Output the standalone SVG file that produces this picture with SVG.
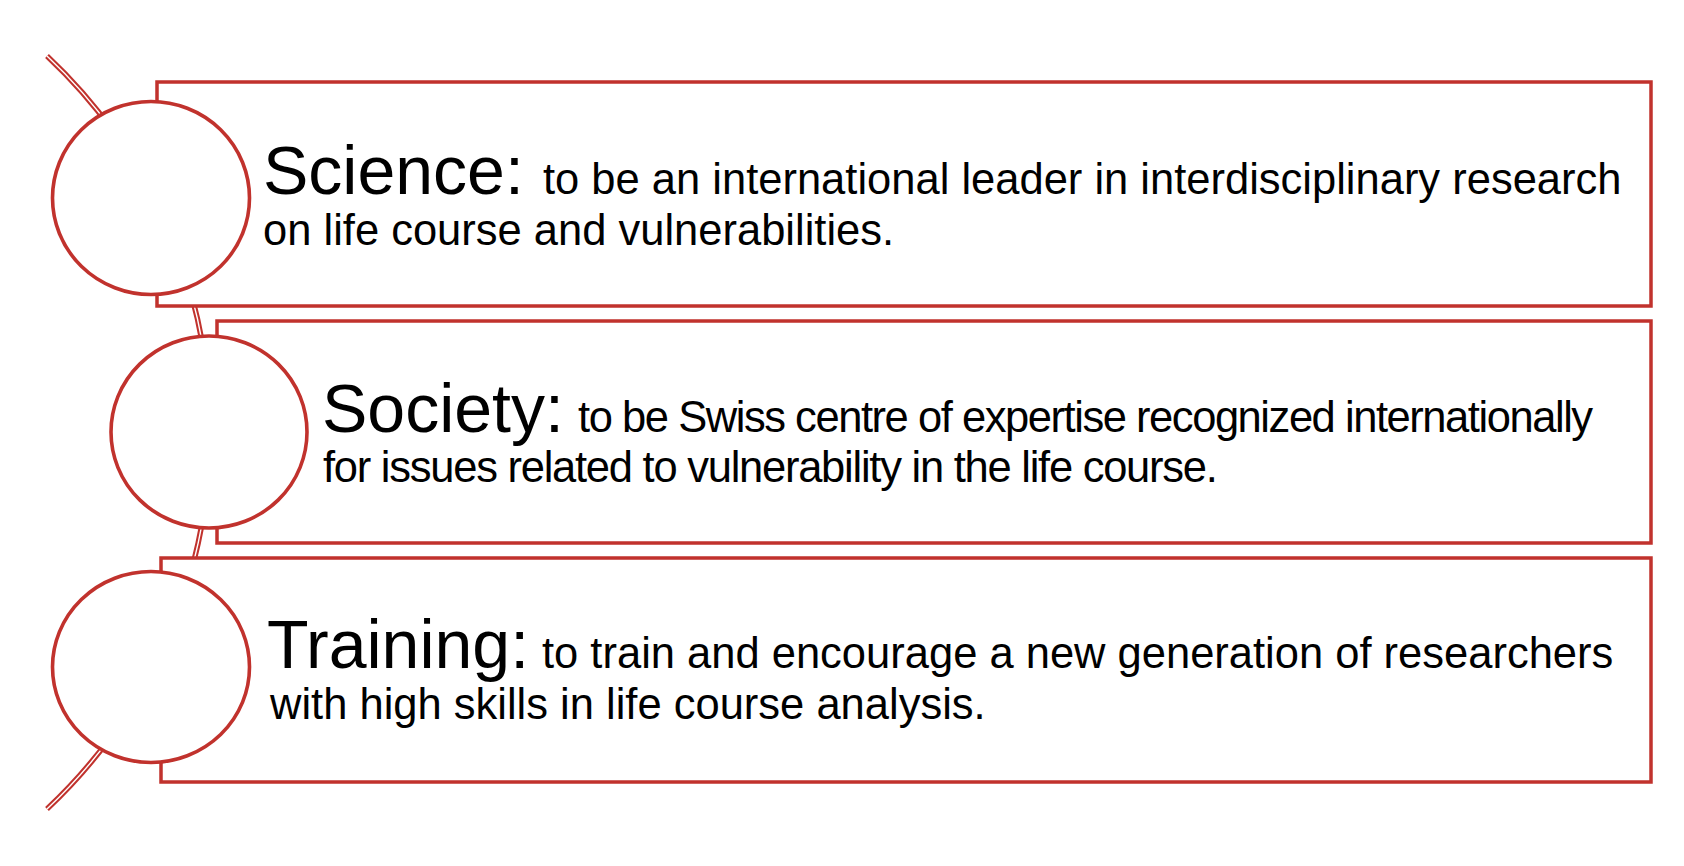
<svg xmlns="http://www.w3.org/2000/svg" width="1684" height="866" viewBox="0 0 1684 866">
<style>
.box{fill:#fff;stroke:#C1322D;stroke-width:3.5}
.dot{fill:#fff;stroke:#C1322D;stroke-width:3.6}
.arcO{fill:none;stroke:#C1322D;stroke-width:5.5}
.arcI{fill:none;stroke:#fff;stroke-width:1.4}
text{font-family:"Liberation Sans",Arial,Helvetica,sans-serif;fill:#000}
.t{font-size:68px}
.b{font-size:43.5px}
.s1{letter-spacing:-1.45px}
.s2{letter-spacing:-1.25px}
</style>
<rect width="1684" height="866" fill="#fff"/>
<g id="connectors">
<path class="arcO" d="M47,56 A516.3,516.3 0 0 1 47,809"/>
<path class="arcI" d="M47,56 A516.3,516.3 0 0 1 47,809"/>
</g>
<g id="node-science">
<rect class="box" x="157" y="82" width="1494" height="224"/>
<ellipse class="dot" cx="151" cy="198" rx="98.5" ry="96.5"/>
<text y="194"><tspan class="t" x="263">Science:</tspan><tspan class="b" x="543">to be an international leader in interdisciplinary research</tspan></text>
<text class="b" x="263" y="245">on life course and vulnerabilities.</text>
</g>
<g id="node-society">
<rect class="box" x="217" y="321" width="1434" height="222"/>
<ellipse class="dot" cx="209" cy="432" rx="98" ry="96"/>
<text y="432"><tspan class="t" x="322">Society:</tspan><tspan class="b s1" x="578">to be Swiss centre of expertise recognized internationally</tspan></text>
<text class="b s2" x="323" y="482">for issues related to vulnerability in the life course.</text>
</g>
<g id="node-training">
<rect class="box" x="161" y="558" width="1490" height="224"/>
<ellipse class="dot" cx="151" cy="667" rx="98.5" ry="95.5"/>
<text y="668"><tspan class="t" x="267">Training:</tspan><tspan class="b" x="542">to train and encourage a new generation of researchers</tspan></text>
<text class="b" x="270" y="719">with high skills in life course analysis.</text>
</g>
</svg>
